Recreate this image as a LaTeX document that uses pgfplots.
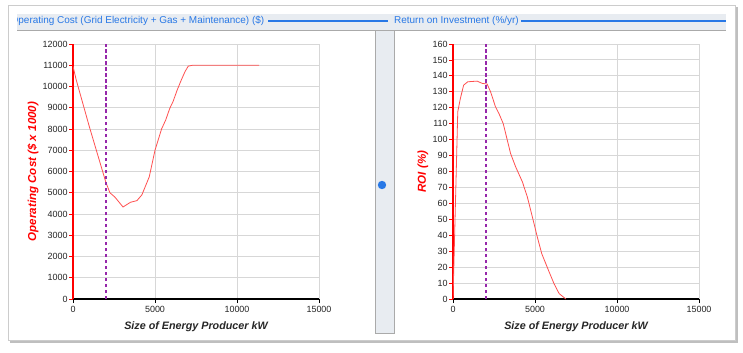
\documentclass[border=0pt]{standalone}
\usepackage{fontspec}
\setmainfont{Liberation Sans}
\usepackage{pgfplots}
\pgfplotsset{compat=1.18}
\definecolor{titleblue}{RGB}{40,120,230}
\definecolor{bandgray}{RGB}{232,236,241}
\definecolor{curvered}{RGB}{255,80,80}
\definecolor{dashpurple}{RGB}{150,40,170}
\definecolor{gridgray}{RGB}{215,215,215}
\definecolor{edgegray}{RGB}{170,170,170}
\pgfplotsset{
  panel/.style={
    scale only axis, width=246bp, height=255bp, anchor=origin,
    xmin=0, xmax=15000, ymin=0,
    axis x line=bottom, axis y line=left,
    x axis line style={black, line width=2.6bp, -},
    y axis line style={red, line width=2.4bp, -},
    xtick={0,5000,10000,15000},
    grid=major, major grid style={gridgray, line width=0.9bp},
    tick align=outside, major tick length=4bp,
    xtick style={black, line width=0.8bp},
    ytick style={red, line width=0.8bp},
    scaled ticks=false,
    /pgf/number format/1000 sep={},
    /pgf/number format/assume math mode=true,
    ticklabel style={font=\fontsize{9}{9}\selectfont, text=black!85},
    yticklabel style={inner sep=1.2bp},
    xlabel style={at={(axis description cs:0.5,0)}, anchor=center, yshift=-28bp,
      font=\fontsize{10.8}{12}\bfseries\itshape\selectfont, text=black!85},
    ylabel style={at={(axis description cs:0,0.5)}, anchor=center,
      font=\fontsize{11.6}{13}\bfseries\itshape\selectfont, text=red},
    xlabel={Size of Energy Producer kW},
  }
}
\begin{document}
\begin{tikzpicture}[x=1bp,y=1bp]
\useasboundingbox (0,0) rectangle (743,352);
% card with shadow
\fill[black!25] (10,9) rectangle (738,345);
\fill[white, draw=black!20] (8,12) rectangle (735,347);
% title band
\fill[bandgray] (17,322) rectangle (726,338);
\draw[edgegray, line width=0.8bp] (17,322) -- (726,322);
% middle column
\fill[bandgray, draw=edgegray, line width=0.6bp] (375,19) rectangle (394,322);
\fill[titleblue] (382,167) circle (4.2);
% titles
\begin{scope}
\clip (17,322) rectangle (726,338);
\node[anchor=west, inner sep=0, text=titleblue, font=\fontsize{10}{11}\selectfont] at (10.5,331) {Operating Cost (Grid Electricity + Gas + Maintenance) (\$)};
\node[anchor=west, inner sep=0, text=titleblue, font=\fontsize{10}{11}\selectfont] at (394,331) {Return on Investment (\%/yr)};
\end{scope}
\draw[titleblue, line width=1.3bp] (268,331) -- (388,331);
\draw[titleblue, line width=1.3bp] (521,331) -- (726,331);

% left chart
\begin{axis}[panel, at={(73bp,53bp)},
  ymax=12000, ytick={0,1000,...,12000},
  ylabel={Operating Cost (\$ x 1000)},
  ylabel style={yshift=40bp}]
\addplot[curvered, line width=0.8bp] coordinates {
(0,10950) (200,10300) (1000,8100) (1500,6800) (2000,5500) (2250,5000)
(2550,4800) (3050,4330) (3500,4550) (3900,4630) (4200,4900) (4650,5750)
(5000,7000) (5400,8000) (5650,8420) (5900,8970) (6100,9290) (6350,9830)
(6600,10300) (6830,10700) (7030,10960) (7300,11000) (11350,11000)};
\addplot[dashpurple, line width=1.4bp, dash pattern=on 3.5bp off 2.5bp] coordinates {(2000,0) (2000,12000)};
\end{axis}

% right chart
\begin{axis}[panel, at={(453bp,53bp)},
  ymax=160, ytick={0,10,...,160},
  ylabel={ROI (\%)},
  ylabel style={yshift=30bp}]
\addplot[curvered, line width=0.8bp] coordinates {
(0,0) (290,117.5) (450,125.9) (650,134.2) (900,136.3) (1470,136.7)
(1780,135.3) (2080,134.9) (2290,130) (2590,120.6) (2800,116.4) (3060,110.1)
(3310,99.7) (3510,91.3) (3820,82.9) (4230,73.5) (4530,64.1) (4940,47.3)
(5140,38.9) (5410,28.5) (5820,18.0) (6160,9.6) (6470,3.4) (6880,0)};
\addplot[dashpurple, line width=1.4bp, dash pattern=on 3.5bp off 2.5bp] coordinates {(2000,0) (2000,160)};
\end{axis}
\end{tikzpicture}
\end{document}
